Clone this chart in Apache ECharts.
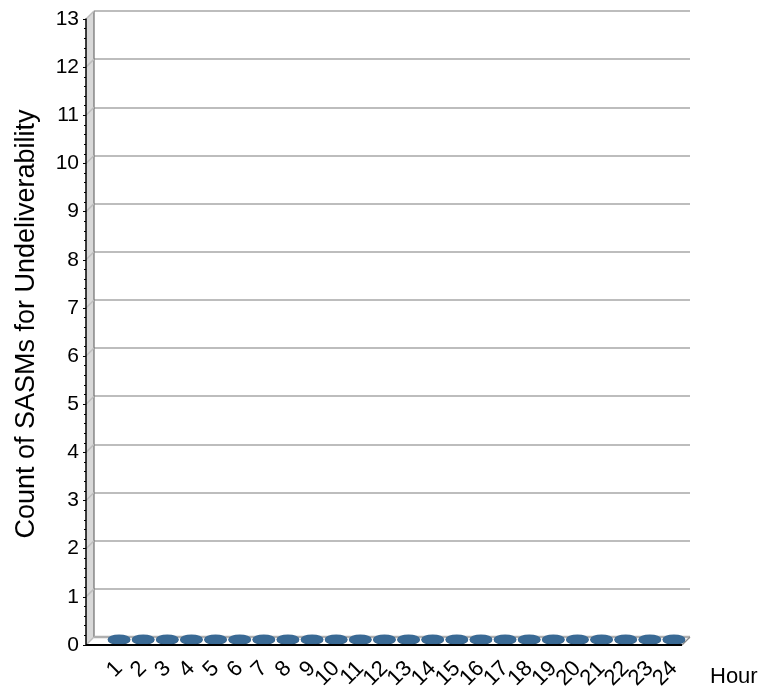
<!DOCTYPE html>
<html>
<head>
<meta charset="utf-8">
<script src="https://cdn.jsdelivr.net/npm/echarts@6/dist/echarts.min.js"></script>
<style>
  html, body { margin: 0; padding: 0; background: #fff; }
  #chart { width: 778px; height: 691px; }
</style>
</head>
<body>
<div id="chart"></div>
<script>
// Hour of day categories
const hours = ['1', '2', '3', '4', '5', '6', '7', '8', '9', '10', '11', '12',
               '13', '14', '15', '16', '17', '18', '19', '20', '21', '22', '23', '24'];
// Count of SASMs flagged for undeliverability per hour
const sasmCounts = [0, 0, 0, 0, 0, 0, 0, 0, 0, 0, 0, 0,
                    0, 0, 0, 0, 0, 0, 0, 0, 0, 0, 0, 0];
// Value axis range
const yMin = 0;
const yMax = 13;
const yStep = 1;

const FONT = '"Liberation Sans", Arial, sans-serif';
const DEPTH = 8;            // 3D depth offset of the back plane, px
const GRID_GRAY = '#bdbdbd';
const BAR_BLUE = '#3a6a95';

const chart = echarts.init(document.getElementById('chart'), null, { renderer: 'canvas' });

const option = {
  animation: false,
  textStyle: { fontFamily: FONT },
  grid: [
    // back plane (grid lines)
    { left: 86 + DEPTH, top: 19 - DEPTH, width: 596, height: 626, outerBoundsMode: 'none', containLabel: false },
    // front plane (value axis)
    { left: 86, top: 19, width: 596, height: 626, outerBoundsMode: 'none', containLabel: false },
    // category bands for the cylinders
    { left: 107, top: 19, width: 579, height: 626, outerBoundsMode: 'none', containLabel: false }
  ],
  xAxis: [
    { gridIndex: 0, type: 'value', min: 0, max: 1, show: false },
    { gridIndex: 1, type: 'value', min: 0, max: 1, show: false },
    {
      gridIndex: 2, type: 'category', data: hours,
      axisLine: { show: false }, axisTick: { show: false },
      axisLabel: { interval: 0, rotate: 45, margin: 20, fontSize: 22, color: '#000', fontFamily: FONT },
      name: 'Hour', nameLocation: 'end', nameGap: 24,
      nameTextStyle: { fontSize: 22, color: '#000', fontFamily: FONT, verticalAlign: 'top', lineHeight: 64 }
    }
  ],
  yAxis: [
    {
      gridIndex: 0, type: 'value', min: yMin, max: yMax, interval: yStep,
      axisLine: { show: false }, axisTick: { show: false }, axisLabel: { show: false },
      splitLine: { show: true, lineStyle: { color: GRID_GRAY, width: 2 } },
      name: 'Count of SASMs for Undeliverability', nameLocation: 'middle', nameGap: 54,
      nameTextStyle: { fontSize: 27, color: '#000', fontFamily: FONT }
    },
    {
      gridIndex: 1, type: 'value', min: yMin, max: yMax, interval: yStep, z: 5,
      axisLine: { show: true, lineStyle: { color: '#000', width: 1.5 } },
      axisTick: { show: true, length: 3, lineStyle: { color: '#000' } },
      minorTick: { show: true, splitNumber: 5, length: 2, lineStyle: { color: '#000' } },
      axisLabel: { fontSize: 21, color: '#000', margin: 7, fontFamily: FONT, padding: [5, 0, 0, 0] },
      splitLine: { show: false }
    },
    { gridIndex: 2, type: 'value', min: yMin, max: yMax, show: false }
  ],
  series: [{
    type: 'custom',
    xAxisIndex: 2,
    yAxisIndex: 2,
    z: 3,
    data: sasmCounts.map((v, i) => [i, v]),
    renderItem: function (params, api) {
      const i = api.value(0);
      const v = api.value(1);
      const base = api.coord([i, 0]);
      const top = api.coord([i, v]);
      const band = api.size([1, 0])[0];
      const rx = band * 0.47;
      const ry = 5;
      const cx = base[0];
      const yBase = base[1] - ry;
      const yTop = top[1] - ry;
      const ellipse = (cy, color) => ({
        type: 'circle',
        x: cx, y: cy, scaleY: ry / rx,
        shape: { cx: 0, cy: 0, r: rx },
        style: { fill: color }
      });
      return {
        type: 'group',
        children: [
          ellipse(yBase, '#2d5578'),
          {
            type: 'rect',
            shape: { x: cx - rx, y: yTop, width: rx * 2, height: Math.max(0, yBase - yTop) },
            style: { fill: BAR_BLUE }
          },
          ellipse(yTop - 0.6, BAR_BLUE)
        ]
      };
    }
  }]
};

chart.setOption(option);

// 3D frame: side wall, floor and depth connectors, placed from the axis scales
const fy = v => chart.convertToPixel({ yAxisIndex: 1 }, v);
const by = v => chart.convertToPixel({ yAxisIndex: 0 }, v);
const fx0 = chart.convertToPixel({ xAxisIndex: 1 }, 0);
const fx1 = chart.convertToPixel({ xAxisIndex: 1 }, 1);
const bx0 = chart.convertToPixel({ xAxisIndex: 0 }, 0);
const bx1 = chart.convertToPixel({ xAxisIndex: 0 }, 1);

const frame = [];
// left wall
frame.push({
  type: 'polygon', z: 1, silent: true,
  shape: { points: [[fx0, fy(yMax)], [bx0, by(yMax)], [bx0, by(yMin)], [fx0, fy(yMin)]] },
  style: { fill: '#d9d9d9' }
});
frame.push({
  type: 'line', z: 2, silent: true,
  shape: { x1: bx0, y1: by(yMax), x2: bx0, y2: by(yMin) },
  style: { stroke: '#6e6e6e', lineWidth: 1.2 }
});
// floor
frame.push({
  type: 'polygon', z: 1, silent: true,
  shape: { points: [[fx0, fy(yMin)], [bx0, by(yMin)], [bx1, by(yMin)], [fx1, fy(yMin)]] },
  style: { fill: '#ffffff' }
});
frame.push({
  type: 'line', z: 2, silent: true,
  shape: { x1: bx0, y1: by(yMin), x2: bx1, y2: by(yMin) },
  style: { stroke: '#b0b0b0', lineWidth: 2.5 }
});
frame.push({
  type: 'line', z: 2, silent: true,
  shape: { x1: bx1, y1: by(yMin), x2: fx1, y2: fy(yMin) },
  style: { stroke: '#8a8a8a', lineWidth: 1.2 }
});
// depth connectors at each value tick
for (let v = yMin; v <= yMax; v += yStep) {
  frame.push({
    type: 'line', z: 2, silent: true,
    shape: { x1: fx0, y1: fy(v), x2: bx0, y2: by(v) },
    style: { stroke: GRID_GRAY, lineWidth: 1.5 }
  });
}
// front edge of the floor (category axis line)
frame.push({
  type: 'line', z: 10, silent: true,
  shape: { x1: fx0, y1: fy(yMin), x2: fx1, y2: fy(yMin) },
  style: { stroke: '#000', lineWidth: 2 }
});

chart.setOption({ graphic: { elements: frame } });
</script>
</body>
</html>
